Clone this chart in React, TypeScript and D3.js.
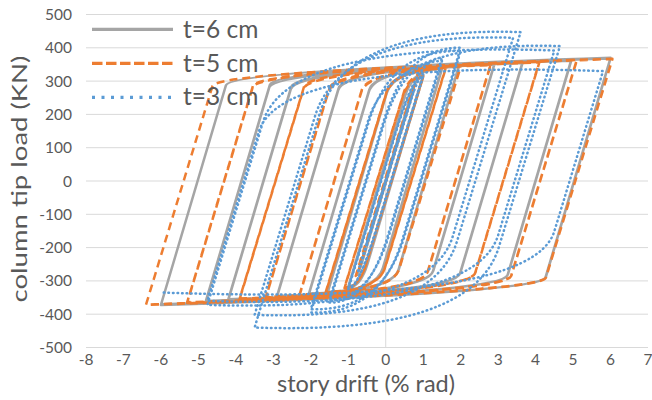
import React from 'react';
import * as d3 from 'd3';

// ---------- data ----------
const xTicks = [-8, -7, -6, -5, -4, -3, -2, -1, 0, 1, 2, 3, 4, 5, 6, 7];
const yTicks = [-500, -400, -300, -200, -100, 0, 100, 200, 300, 400, 500];
const seriesNames = ['t=6 cm', 't=5 cm', 't=3 cm'];

// t=6 cm : peak of each cycle (story drift %, load kN)
const t6PosDrift = [0.35, 0.5, 0.75, 1.0, 1.0, 1.5, 1.5, 1.95, 1.95, 2.9, 2.9, 3.65, 3.65, 4.95, 4.95, 6.0, 6.0];
const t6PosLoad = [133, 190, 280, 318, 316, 338, 336, 345, 343, 352, 350, 356, 354, 363, 361, 370, 368];
const t6NegDrift = [-0.35, -0.5, -0.75, -1.0, -1.0, -1.55, -1.55, -2.05, -2.05, -2.9, -2.9, -4.2, -4.2, -4.8, -4.8, -6.0, -6.0];
const t6NegLoad = [-133, -190, -282, -320, -318, -335, -333, -340, -338, -347, -345, -357, -355, -362, -360, -372, -370];

// t=5 cm
const t5PosDrift = [0.35, 0.5, 0.75, 1.0, 1.0, 1.6, 1.6, 2.0, 2.0, 2.8, 2.8, 4.1, 4.1, 5.1, 5.1, 6.05, 6.05];
const t5PosLoad = [130, 185, 275, 315, 313, 340, 338, 345, 343, 350, 348, 358, 356, 364, 362, 367, 366];
const t5NegDrift = [-0.35, -0.5, -0.8, -1.1, -1.1, -1.6, -1.6, -2.3, -2.3, -3.2, -3.2, -3.9, -3.9, -5.3, -5.3, -6.4, -6.4];
const t5NegLoad = [-130, -185, -285, -322, -320, -335, -333, -343, -341, -350, -348, -355, -353, -366, -364, -372, -371];

// t=3 cm
const t3PosDrift = [0.35, 0.5, 0.75, 1.0, 1.0, 1.5, 1.5, 2.0, 2.0, 4.65, 3.6, 3.4, 4.5, 5.8];
const t3PosLoad = [130, 185, 270, 320, 315, 370, 360, 400, 390, 405, 447, 430, 392, 330];
const t3NegDrift = [-0.35, -0.5, -0.75, -1.0, -1.0, -1.5, -1.5, -2.0, -2.0, -3.5, -3.5, -4.76, -4.76, -5.96];
const t3NegLoad = [-130, -185, -275, -325, -320, -365, -355, -395, -385, -440, -402, -372, -360, -335];

// branch parameters per series: unloading stiffness (kN/%), knee fraction, post-yield slope
const stiffness = [380, 370, 370];
const kneeFraction = [0.78, 0.78, 0.45];
const postYieldSlope = [3.5, 3.5, -4];

const colors = ['#A5A5A5', '#ED7D31', '#5B9BD5'];

const W = 652;
const H = 400;
const FONT = 'Lato, "Open Sans", sans-serif';
const TEXT = '#595959';

function loopPath(
  posD: number[], posF: number[], negD: number[], negF: number[],
  K: number, kf: number, h: number,
  x: d3.ScaleLinear<number, number>, y: d3.ScaleLinear<number, number>
) {
  const p = d3.path();
  let dr = 0;
  let Fr = 0;
  p.moveTo(x(0), y(0));
  const targets: [number, number][] = [];
  posD.forEach((_, i) => {
    targets.push([posD[i], posF[i]]);
    targets.push([negD[i], negF[i]]);
  });
  for (const [dt, Ft] of targets) {
    const s = Math.sign(dt - dr);
    const Fk = kf * Ft;
    const dk = dr + (Fk - Fr) / K;
    if (s * (dt - dk) <= 0 || s * (Fk - Fr) <= 0) {
      p.lineTo(x(dt), y(Ft));
    } else {
      let dq = (Ft - h * dt - Fk + K * dk) / (K - h);
      let Fq = Fk + K * (dq - dk);
      if (s * (dq - dk) < 0) { dq = dk; Fq = Fk; }
      if (s * (dq - dt) > 0) { dq = dt; Fq = Ft; }
      p.lineTo(x(dk), y(Fk));
      p.quadraticCurveTo(x(dq), y(Fq), x(dt), y(Ft));
    }
    dr = dt;
    Fr = Ft;
  }
  return p.toString();
}

export default function App() {
  const x = d3.scaleLinear().domain([-8, 7]).range([86, 648]);
  const y = d3.scaleLinear().domain([-500, 500]).range([347.5, 14.5]);

  const series = [
    { pd: t6PosDrift, pf: t6PosLoad, nd: t6NegDrift, nf: t6NegLoad },
    { pd: t5PosDrift, pf: t5PosLoad, nd: t5NegDrift, nf: t5NegLoad },
    { pd: t3PosDrift, pf: t3PosLoad, nd: t3NegDrift, nf: t3NegLoad },
  ];
  const dashes = [undefined, '8 5', '0.6 3.9'];
  const caps: ('butt' | 'round')[] = ['butt', 'butt', 'round'];
  const legendDashes = [undefined, '10.5 3.5', '3 6.5'];

  return (
    <svg width={W} height={H} style={{ position: 'absolute', left: 0, top: 0, background: '#fff' }}
      fontFamily={FONT}>
      <rect x={0} y={0} width={W} height={H} fill="#fff" />
      {/* gridlines */}
      {yTicks.map((t) => (
        <line key={'g' + t} x1={x(-8)} x2={x(7)} y1={y(t)} y2={y(t)} stroke="#D9D9D9" strokeWidth={1} />
      ))}
      <line x1={x(0)} x2={x(0)} y1={y(500)} y2={y(-500)} stroke="#D9D9D9" strokeWidth={1} />

      {/* tick labels */}
      {yTicks.map((t) => (
        <text key={'yl' + t} x={72} y={y(t)} dy="0.36em" textAnchor="end" fontSize={15.5} fill={TEXT}>{t}</text>
      ))}
      {xTicks.map((t) => (
        <text key={'xl' + t} x={x(t)} y={365} textAnchor="middle" fontSize={15.5} fill={TEXT}>{t}</text>
      ))}

      {/* series */}
      {series.map((s, i) => (
        <path key={'s' + i}
          d={loopPath(s.pd, s.pf, s.nd, s.nf, stiffness[i], kneeFraction[i], postYieldSlope[i], x, y)}
          fill="none" stroke={colors[i]} strokeWidth={2.5}
          strokeDasharray={dashes[i]} strokeLinecap={caps[i]} strokeLinejoin="round" />
      ))}

      {/* legend */}
      {seriesNames.map((n, i) => (
        <g key={'lg' + i}>
          <line x1={92} x2={173} y1={29.3 + i * 34} y2={29.3 + i * 34} stroke={colors[i]}
            strokeWidth={3.3} strokeDasharray={legendDashes[i]} />
          <text x={183} y={38 + i * 33.7} fontSize={24.5} fill={TEXT}>{n}</text>
        </g>
      ))}

      {/* axis titles */}
      <text x={366} y={392} textAnchor="middle" fontSize={23.5} fill={TEXT}>story drift (% rad)</text>
      <text transform={`translate(27,179) rotate(-90) scale(1,0.74)`} textAnchor="middle" fontSize={27.5} fill={TEXT}>
        column tip load (KN)
      </text>
    </svg>
  );
}
